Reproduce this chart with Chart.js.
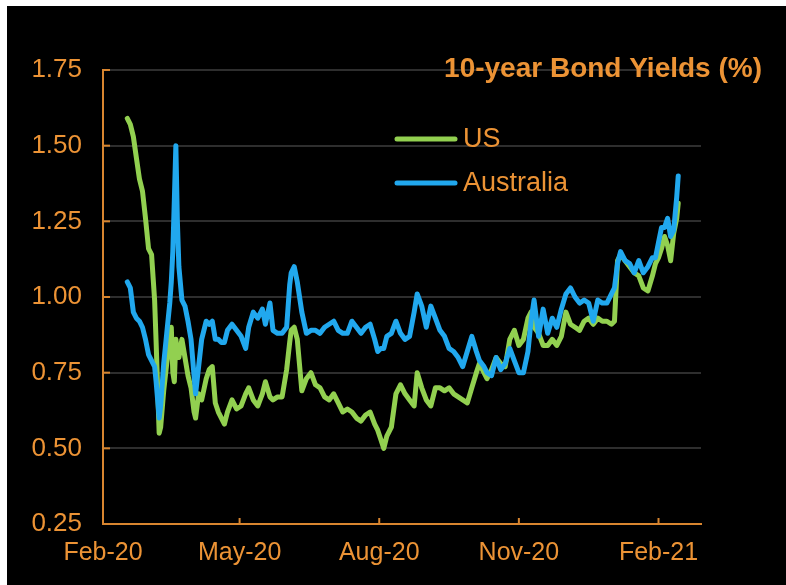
<!DOCTYPE html>
<html>
<head>
<meta charset="utf-8">
<script src="https://cdn.jsdelivr.net/npm/chart.js@4.4.1/dist/chart.umd.min.js"></script>
<style>
  body { margin: 0; background: #fff; }
  #wrap { position: absolute; left: 7px; top: 6px; width: 779px; height: 579px; background: #000; }
</style>
</head>
<body>
<div id="wrap"><canvas id="yields" width="779" height="579"></canvas></div>
<script>
// days since 1 Feb 2020
const days = [
  16, 18, 20, 22, 24, 26, 28, 30, 32, 34,
  35, 36, 37, 38, 40, 42, 44, 45, 46, 47,
  48, 49, 50, 52, 54, 56, 58, 60, 61, 63,
  65, 68, 70, 72, 74, 76, 78, 80, 82, 85,
  88, 91, 94, 96, 99, 102, 105, 107, 110, 112,
  115, 118, 121, 123, 124, 126, 128, 131, 134, 137,
  140, 143, 146, 149, 152, 155, 158, 161, 164, 167,
  170, 173, 176, 179, 181, 183, 185, 187, 190, 193,
  196, 199, 202, 205, 207, 210, 213, 216, 219, 222,
  225, 228, 231, 234, 237, 240, 243, 246, 248, 251,
  253, 256, 259, 262, 265, 268, 271, 274, 277, 280,
  282, 284, 287, 290, 293, 296, 299, 302, 305, 308,
  311, 314, 317, 320, 323, 326, 329, 332, 335, 337,
  339, 341, 344, 347, 350, 353, 356, 359, 362, 364,
  366, 368, 370, 372, 374, 376, 378, 379
];

const usYields = [
  1.59, 1.57, 1.53, 1.46, 1.39, 1.35, 1.26, 1.16, 1.14, 0.99,
  0.85, 0.70, 0.55, 0.57, 0.69, 0.78, 0.86, 0.90, 0.75, 0.72,
  0.86, 0.82, 0.80, 0.86, 0.80, 0.74, 0.70, 0.62, 0.60, 0.68,
  0.66, 0.73, 0.76, 0.77, 0.65, 0.62, 0.60, 0.58, 0.62, 0.66,
  0.63, 0.64, 0.68, 0.70, 0.66, 0.64, 0.68, 0.72, 0.67, 0.66,
  0.67, 0.67, 0.76, 0.85, 0.89, 0.90, 0.86, 0.69, 0.73, 0.75,
  0.71, 0.70, 0.67, 0.66, 0.68, 0.65, 0.62, 0.63, 0.62, 0.60,
  0.59, 0.61, 0.62, 0.58, 0.56, 0.53, 0.50, 0.54, 0.57, 0.68,
  0.71, 0.68, 0.66, 0.64, 0.75, 0.70, 0.66, 0.64, 0.70, 0.70,
  0.69, 0.70, 0.68, 0.67, 0.66, 0.65, 0.70, 0.75, 0.78, 0.75,
  0.73, 0.76, 0.80, 0.78, 0.77, 0.86, 0.89, 0.84, 0.86, 0.93,
  0.95, 0.90, 0.88, 0.84, 0.84, 0.86, 0.84, 0.87, 0.95, 0.91,
  0.90, 0.89, 0.92, 0.93, 0.91, 0.93, 0.92, 0.92, 0.91, 0.92,
  1.12, 1.14, 1.12, 1.10, 1.08, 1.07, 1.03, 1.02, 1.07, 1.11,
  1.13, 1.16, 1.20, 1.17, 1.12, 1.21, 1.26, 1.31
];

const ausYields = [
  1.05, 1.03, 0.95, 0.93, 0.92, 0.90, 0.86, 0.81, 0.79, 0.77,
  0.72, 0.66, 0.60, 0.64, 0.78, 0.88, 0.98, 1.05, 1.15, 1.32,
  1.50, 1.25, 1.10, 0.99, 0.97, 0.92, 0.86, 0.74, 0.68, 0.77,
  0.86, 0.92, 0.91, 0.92, 0.86, 0.86, 0.85, 0.85, 0.89, 0.91,
  0.89, 0.87, 0.83, 0.90, 0.95, 0.93, 0.96, 0.91, 0.98, 0.89,
  0.88, 0.88, 0.90, 1.04, 1.08, 1.10, 1.05, 0.95, 0.88, 0.89,
  0.89, 0.88, 0.90, 0.91, 0.92, 0.89, 0.88, 0.88, 0.92, 0.90,
  0.88, 0.90, 0.91, 0.86, 0.82, 0.83, 0.83, 0.87, 0.88, 0.92,
  0.88, 0.86, 0.87, 0.95, 1.01, 0.97, 0.90, 0.97, 0.93, 0.89,
  0.87, 0.83, 0.82, 0.80, 0.77, 0.82, 0.87, 0.82, 0.79, 0.77,
  0.75, 0.74, 0.80, 0.76, 0.78, 0.83, 0.79, 0.75, 0.75, 0.82,
  0.92, 0.99, 0.87, 0.96, 0.88, 0.93, 0.90, 0.96, 1.01, 1.03,
  1.00, 0.98, 0.99, 0.98, 0.92, 0.99, 0.98, 0.98, 1.01, 1.03,
  1.11, 1.15, 1.12, 1.11, 1.08, 1.12, 1.08, 1.10, 1.13, 1.13,
  1.18, 1.23, 1.23, 1.26, 1.20, 1.22, 1.33, 1.40
];

const tickDays = [0, 90, 182, 274, 366];
const tickLabels = ['Feb-20', 'May-20', 'Aug-20', 'Nov-20', 'Feb-21'];
const yTicks = [0.25, 0.5, 0.75, 1.0, 1.25, 1.5, 1.75];

const titleText = '10-year Bond Yields (%)';
const textColor = '#ec9335';
const axisColor = '#d8852f';
const usColor = '#92d050';
const ausColor = '#21a8ee';

function toPoints(values) {
    return days.map((d, i) => ({ x: d, y: values[i] }));
}

const extras = {
    id: 'extras',
    afterDraw(chart) {
        const ctx = chart.ctx;
        const xs = chart.scales.x;
        const ys = chart.scales.y;
        ctx.save();

        // short ticks pointing into the plot
        ctx.strokeStyle = axisColor;
        ctx.lineWidth = 2;
        yTicks.forEach(v => {
            const py = ys.getPixelForValue(v);
            ctx.beginPath();
            ctx.moveTo(xs.left, py);
            ctx.lineTo(xs.left + 7, py);
            ctx.stroke();
        });
        tickDays.forEach(d => {
            const px = xs.getPixelForValue(d);
            ctx.beginPath();
            ctx.moveTo(px, ys.bottom);
            ctx.lineTo(px, ys.bottom - 6);
            ctx.stroke();
        });

        ctx.fillStyle = textColor;
        ctx.font = 'bold 28px "Liberation Sans", Arial, sans-serif';
        ctx.textAlign = 'right';
        ctx.textBaseline = 'middle';
        ctx.fillText(titleText, 755, 63);

        ctx.font = '27px "Liberation Sans", Arial, sans-serif';
        ctx.textAlign = 'left';
        chart.data.datasets.forEach((ds, i) => {
            const ly = 133 + i * 44;
            ctx.strokeStyle = ds.borderColor;
            ctx.lineWidth = 5;
            ctx.lineCap = 'round';
            ctx.beginPath();
            ctx.moveTo(390, ly);
            ctx.lineTo(448, ly);
            ctx.stroke();
            ctx.fillText(ds.label, 456, ly + 1);
        });
        ctx.restore();
    }
};

const ctx = document.getElementById('yields').getContext('2d');
new Chart(ctx, {
    type: 'line',
    data: {
        datasets: [
            { label: 'US', data: toPoints(usYields), borderColor: usColor, order: 1 },
            { label: 'Australia', data: toPoints(ausYields), borderColor: ausColor, order: 0 }
        ]
    },
    options: {
        responsive: false,
        animation: false,
        layout: { padding: { top: 64, right: 85, left: 0, bottom: 0 } },
        elements: {
            point: { radius: 0 },
            line: { borderWidth: 5, tension: 0, borderJoinStyle: 'round', borderCapStyle: 'round' }
        },
        plugins: {
            legend: { display: false },
            tooltip: { enabled: false }
        },
        scales: {
            x: {
                type: 'linear',
                min: 0,
                max: 394,
                afterBuildTicks: s => { s.ticks = tickDays.map(v => ({ value: v })); },
                afterFit: s => { s.height = 61; },
                grid: { display: false, drawTicks: false },
                border: { color: axisColor, width: 2 },
                ticks: {
                    color: textColor,
                    padding: 14,
                    maxRotation: 0,
                    autoSkip: false,
                    font: { family: '"Liberation Sans", Arial, sans-serif', size: 25 },
                    callback: v => tickLabels[tickDays.indexOf(v)]
                }
            },
            y: {
                min: 0.25,
                max: 1.75,
                afterBuildTicks: s => { s.ticks = yTicks.map(v => ({ value: v })); },
                afterFit: s => { s.width = 96; },
                grid: { color: '#2e2e2e', lineWidth: 2, drawTicks: false },
                border: { color: axisColor, width: 2 },
                ticks: {
                    color: textColor,
                    padding: 21,
                    font: { family: '"Liberation Sans Narrow", "Liberation Sans", Arial, sans-serif', size: 26 },
                    callback: v => v.toFixed(2)
                }
            }
        }
    },
    plugins: [extras]
});
</script>
</body>
</html>
